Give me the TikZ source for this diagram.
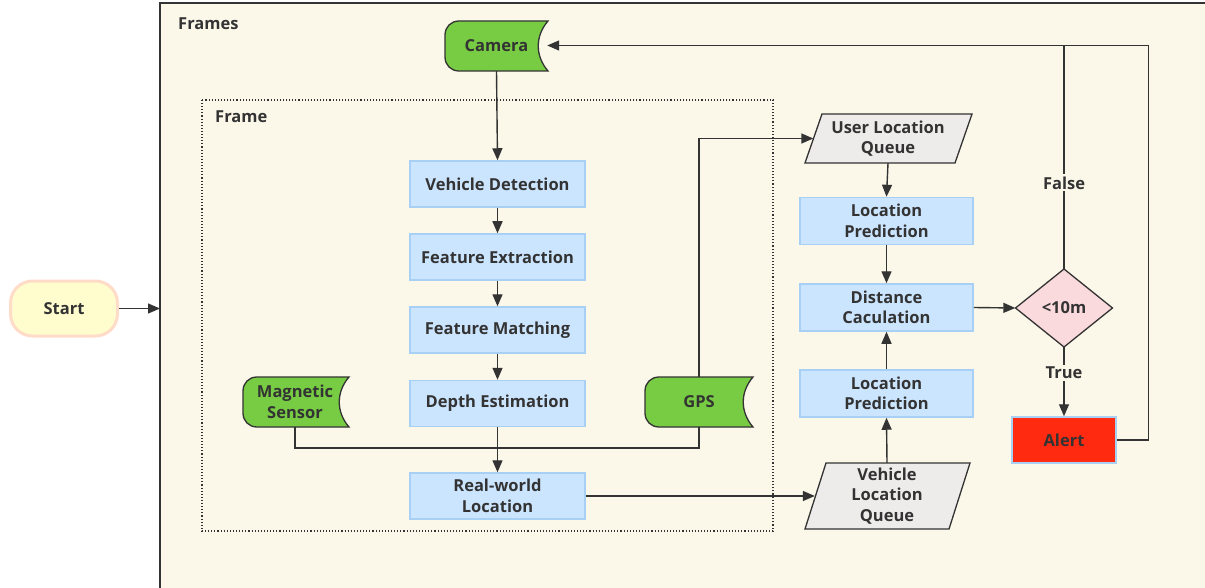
\documentclass[tikz,border=0pt]{standalone}
\usepackage{fontspec}
\setmainfont{Open Sans}
\usetikzlibrary{arrows.meta,calc}
\definecolor{cream}{RGB}{251,247,233}
\definecolor{ink}{RGB}{51,51,51}
\definecolor{boxblue}{RGB}{204,229,255}
\definecolor{boxedge}{RGB}{168,208,245}
\definecolor{grn}{RGB}{119,204,68}
\definecolor{qgray}{RGB}{238,235,235}
\definecolor{pinkd}{RGB}{250,218,221}
\definecolor{alertred}{RGB}{255,42,16}
\definecolor{startfill}{RGB}{255,252,206}
\definecolor{startedge}{RGB}{255,220,200}
\pgfdeclarelayer{bg}
\pgfdeclarelayer{shapes}
\pgfsetlayers{bg,shapes,main}
\tikzset{
  txt/.style={font=\fontsize{16.5}{20.5}\selectfont\bfseries, text=ink, align=center, inner sep=0pt},
  procbox/.style={txt, draw=boxedge, fill=boxblue, line width=1.5pt, minimum width=175pt, minimum height=46pt},
  ghost/.style={txt, draw=none},
  conn/.style={draw=ink, line width=1.4pt},
  arr/.style={conn, -{Triangle[length=12pt,width=10pt]}},
  greenshape/.style={fill=grn, draw=ink, line width=1.3pt},
  queueshape/.style={fill=qgray, draw=ink, line width=1.3pt},
  lbl/.style={txt, fill=cream, inner sep=2pt}
}
% storage shape: x1 y1 x2 y2
\newcommand{\storageshape}[4]{%
  \path[greenshape] ({#1+14},#2) -- (#3,#2)
    .. controls ({#3-13},{#2+0.3*(#4-#2)}) and ({#3-13},{#4-0.3*(#4-#2)}) .. (#3,#4)
    -- ({#1+14},#4) .. controls ({#1+6},#4) and (#1,{#4-6}) .. (#1,{#4-14})
    -- (#1,{#2+14}) .. controls (#1,{#2+6}) and ({#1+6},#2) .. ({#1+14},#2) -- cycle;}
% parallelogram: x1(bottom-left) y1(top) y2(bottom) width shift
\newcommand{\paralshape}[5]{%
  \path[queueshape] ({#1+#5},#2) -- ({#1+#5+#4},#2) -- ({#1+#4},#3) -- (#1,#3) -- cycle;}
\begin{document}
\begin{tikzpicture}[x=1pt,y=-1pt]
\useasboundingbox (0,0) rectangle (1205,588);
\begin{pgfonlayer}{bg}
  \fill[white] (0,0) rectangle (1205,588);
  \path[fill=cream, draw=ink, line width=1.3pt] (160,3) rectangle (1215,598);
  \draw[ink, line width=1.1pt, dotted] (202,100) rectangle (773,531);
\end{pgfonlayer}
\node[txt, anchor=west] (framesl) at (178,24) {Frames};
\node[txt, anchor=west] (framel) at (215,117) {Frame};

% Start
\node[txt, fill=startfill, draw=startedge, line width=3pt, rounded corners=22pt,
  minimum width=107pt, minimum height=55pt] (start) at (64,308.5) {Start};
\coordinate (fedge) at (160,308.5);

% storage shapes
\begin{pgfonlayer}{shapes}
  \storageshape{445}{21}{548}{71}
  \storageshape{243}{377}{349}{427}
  \storageshape{645}{377}{753}{427}
  \paralshape{805}{114}{163}{150}{17}
  \paralshape{805}{463}{529}{144}{21}
  \path[fill=pinkd, draw=ink, line width=1.3pt] (1064,269) -- (1112.5,308) -- (1064,347) -- (1015.5,308) -- cycle;
\end{pgfonlayer}
\node[ghost, minimum width=101pt, minimum height=50pt] (cam) at (496.5,46) {Camera};
\node[ghost, minimum width=104pt, minimum height=50pt] (ms) at (295,402) {Magnetic\\Sensor};
\node[ghost, minimum width=106pt, minimum height=50pt] (gps) at (699,402) {GPS};
\node[ghost, minimum width=149pt, minimum height=49pt] (ulq) at (888,138.5) {User Location\\Queue};
\node[ghost, minimum width=144pt, minimum height=66pt] (vlq) at (887,496) {Vehicle\\Location\\Queue};
\node[ghost, minimum width=97pt, minimum height=78pt] (dia) at (1064,308) {<10m};

% process boxes
\node[procbox] (vd) at (497.5,184) {Vehicle Detection};
\node[procbox] (fe) at (497.5,257) {Feature Extraction};
\node[procbox] (fm) at (497.5,330) {Feature Matching};
\node[procbox] (de) at (497.5,403.5) {Depth Estimation};
\node[procbox] (rwl) at (497.5,496) {Real-world\\Location};
\node[procbox, minimum width=173pt, minimum height=47pt] (lp1) at (886.5,221) {Location\\Prediction};
\node[procbox, minimum width=173pt, minimum height=47pt] (dc) at (886.5,307.5) {Distance\\Caculation};
\node[procbox, minimum width=173pt, minimum height=47pt] (lp2) at (886.5,393.5) {Location\\Prediction};
\node[procbox, fill=alertred, minimum width=104pt, minimum height=46pt] (alert) at (1064,440) {Alert};

% connectors
\draw[arr] (start) -- (fedge);
\draw[arr] (cam.south) -- (vd.north);
\draw[arr] (vd) -- (fe);
\draw[arr] (fe) -- (fm);
\draw[arr] (fm) -- (de);
\draw[arr] (de) -- (rwl);
\coordinate (msj) at (295,448);
\draw[conn] (ms.south) -- (msj) -| (gps.south);
\coordinate (gpsj) at (699,138.5);
\draw[arr] (gps.north) -- (gpsj) -- (ulq.west);
\draw[arr] (rwl.east) -- (vlq.west);
\draw[arr] (ulq.south) -- (lp1.north);
\draw[arr] (lp1) -- (dc);
\draw[arr] (vlq.north) -- (lp2.south);
\draw[arr] (lp2) -- (dc);
\draw[arr] (dc.east) -- (dia.west);
\draw[arr] (dia.south) -- node[lbl, pos=0.37] {True} (alert.north);
\coordinate (topj) at (1064,45.5);
\coordinate (rtop) at (1148.5,45.5);
\coordinate (rbot) at (1148.5,440);
\draw[conn] (dia.north) -- node[lbl, pos=0.385] {False} (topj);
\draw[arr] (alert.east) -- (rbot) -- (rtop) -- (cam.east |- rtop);
\end{tikzpicture}
\end{document}
